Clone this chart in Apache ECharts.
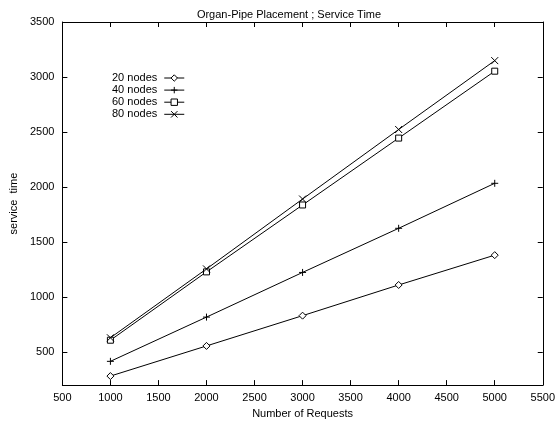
<!DOCTYPE html>
<html>
<head>
<meta charset="utf-8">
<script src="https://cdn.jsdelivr.net/npm/echarts@6/dist/echarts.min.js"></script>
<style>html,body{margin:0;padding:0;background:#fff}#c{width:558px;height:424px}</style>
</head>
<body>
<div id="c"></div>
<script>
const requests = [1000, 2000, 3000, 4000, 5000];
const nodes20 = [282, 556, 831, 1110, 1381];
const nodes40 = [416, 818, 1224, 1625, 2034];
const nodes60 = [608, 1229, 1837, 2445, 3053];
const nodes80 = [630, 1256, 1891, 2523, 3149];
const seriesNames = ['20 nodes', '40 nodes', '60 nodes', '80 nodes'];
const yTicks = [500, 1000, 1500, 2000, 2500, 3000, 3500];

const FONT = 'Liberation Sans, Arial, sans-serif';
const diamondPath = 'path://M5,0L10,5L5,10L0,5Z';
const plusPath = 'path://M0,5L10,5M5,0L5,10';
const squarePath = 'path://M0,0L10,0L10,10L0,10Z';
const crossPath = 'path://M0,0L10,10M10,0L0,10';
const symbols = [[diamondPath, 7], [plusPath, 7], [squarePath, 6], [crossPath, 7]];
const allData = [nodes20, nodes40, nodes60, nodes80];

const chart = echarts.init(document.getElementById('c'), null, {renderer: 'canvas'});
const plain = v => String(v);
const axisCommon = {
  axisLine: {show: true, lineStyle: {color: '#000', width: 1}},
  axisTick: {show: true, inside: true, length: 5, lineStyle: {color: '#000'}},
  splitLine: {show: false},
  axisLabel: {color: '#000', fontFamily: FONT, fontSize: 11, formatter: plain}
};
chart.setOption({
  animation: false,
  backgroundColor: '#fff',
  title: {
    text: 'Organ-Pipe Placement ; Service Time',
    left: 284, top: 4, textAlign: 'center',
    textStyle: {fontFamily: FONT, fontSize: 11, fontWeight: 'normal', color: '#000'}
  },
  legend: {
    orient: 'vertical', left: 112, top: 72.5, align: 'right', padding: 0,
    itemWidth: 20, itemHeight: 8, itemGap: 1.1,
    lineStyle: {width: 1, color: '#000'},
    itemStyle: {borderWidth: 1, color: '#fff', borderColor: '#000'},
    textStyle: {fontFamily: FONT, fontSize: 11, lineHeight: 8, color: '#000', padding: [0, 2, 0, 0]},
    data: seriesNames
  },
  grid: {left: 62, right: 14, top: 22, bottom: 33, containLabel: false},
  xAxis: [
    Object.assign({}, axisCommon, {
      type: 'value', min: 500, max: 5500, interval: 500, position: 'bottom',
      name: 'Number of Requests', nameLocation: 'middle', nameGap: 18,
      nameTextStyle: {fontFamily: FONT, fontSize: 11, color: '#000'},
      axisLabel: Object.assign({}, axisCommon.axisLabel, {margin: 7})
    }),
    Object.assign({}, axisCommon, {
      type: 'value', min: 500, max: 5500, interval: 500, position: 'top',
      axisLabel: {show: false}
    })
  ],
  yAxis: [
    Object.assign({}, axisCommon, {
      type: 'value', min: 200, max: 3500, position: 'left',
      name: 'service  time', nameLocation: 'middle', nameGap: 43, nameRotate: 90,
      nameTextStyle: {fontFamily: FONT, fontSize: 11, color: '#000'},
      axisTick: Object.assign({}, axisCommon.axisTick, {customValues: yTicks}),
      axisLabel: Object.assign({}, axisCommon.axisLabel, {customValues: yTicks, margin: 8})
    }),
    Object.assign({}, axisCommon, {
      type: 'value', min: 200, max: 3500, position: 'right',
      axisTick: Object.assign({}, axisCommon.axisTick, {customValues: yTicks}),
      axisLabel: {show: false}
    })
  ],
  series: seriesNames.map((name, i) => ({
    name: name,
    type: 'line',
    xAxisIndex: 0, yAxisIndex: 0,
    data: requests.map((r, j) => [r, allData[i][j]]),
    symbol: symbols[i][0],
    symbolSize: symbols[i][1],
    showSymbol: true,
    lineStyle: {color: '#000', width: 1},
    itemStyle: {color: '#fff', borderColor: '#000', borderWidth: 1},
    emphasis: {disabled: true}
  }))
});
</script>
</body>
</html>
